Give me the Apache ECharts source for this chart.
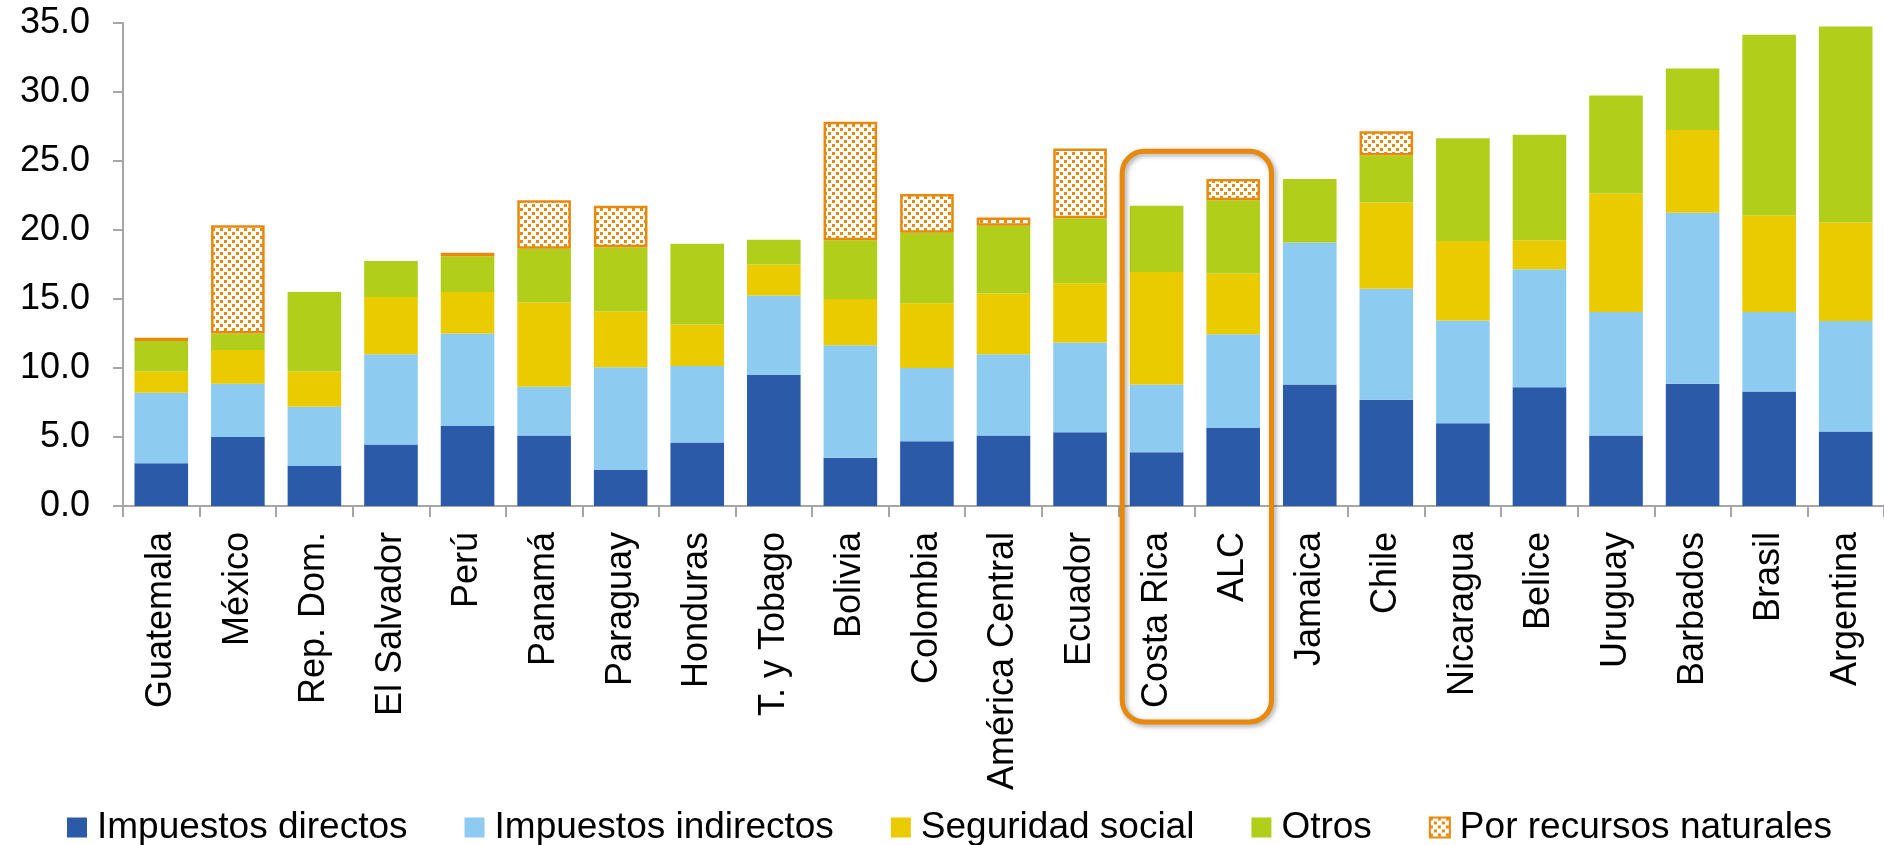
<!DOCTYPE html>
<html>
<head>
<meta charset="utf-8">
<script src="https://cdn.jsdelivr.net/npm/echarts@6/dist/echarts.min.js"></script>
<style>
  html, body { margin: 0; padding: 0; background: #fff; }
  #main { width: 1884px; height: 845px; }
</style>
</head>
<body>
<div id="main"></div>
<script>
var categories = ['Guatemala', 'México', 'Rep. Dom.', 'El Salvador', 'Perú', 'Panamá', 'Paraguay', 'Honduras',
  'T. y Tobago', 'Bolivia', 'Colombia', 'América Central', 'Ecuador', 'Costa Rica', 'ALC', 'Jamaica', 'Chile',
  'Nicaragua', 'Belice', 'Uruguay', 'Barbados', 'Brasil', 'Argentina'];

var directos   = [3.1, 5.0, 2.9, 4.45, 5.8, 5.1, 2.6, 4.6, 9.5, 3.5, 4.7, 5.1, 5.35, 3.9, 5.65, 8.8, 7.7, 6.0, 8.6, 5.1, 8.85, 8.3, 5.4];
var indirectos = [5.1, 3.85, 4.3, 6.55, 6.7, 3.55, 7.45, 5.55, 5.75, 8.15, 5.3, 5.9, 6.5, 4.9, 6.8, 10.3, 8.05, 7.45, 8.55, 8.95, 12.4, 5.75, 8.0];
var seguridad  = [1.55, 2.45, 2.55, 4.15, 3.0, 6.1, 4.05, 3.0, 2.25, 3.35, 4.7, 4.4, 4.3, 8.15, 4.4, 0, 6.25, 5.75, 2.1, 8.6, 6.0, 7.0, 7.15];
var otros      = [2.2, 1.2, 5.75, 2.6, 2.6, 3.9, 4.65, 5.85, 1.8, 4.25, 5.1, 4.9, 4.7, 4.8, 5.3, 4.6, 3.4, 7.45, 7.65, 7.1, 4.45, 13.1, 14.2];
var recursos   = [0.25, 7.85, null, null, 0.25, 3.5, 3.0, null, null, 8.6, 2.8, 0.6, 5.05, null, 1.55, null, 1.75, null, null, null, null, null, null];

var seriesNames = ['Impuestos directos', 'Impuestos indirectos', 'Seguridad social', 'Otros', 'Por recursos naturales'];
var colors = ['#2B5AA8', '#8DCCF0', '#EACB00', '#B0CE1A', '#E8890C'];

// highlighted group (rounded frame)
var framed = ['Costa Rica', 'ALC'];

var FONT = '"Liberation Sans", Arial, sans-serif';

// checker pattern for the natural resources series
var pat = document.createElement('canvas');
pat.width = 8;
pat.height = 8;
var pctx = pat.getContext('2d');
pctx.fillStyle = '#fff';
pctx.fillRect(0, 0, 8, 8);
pctx.fillStyle = '#E8890C';
pctx.fillRect(0, 0, 3, 3);
pctx.fillRect(4, 4, 3, 3);

var myChart = echarts.init(document.getElementById('main'));

function makeSeries(name, data, idx) {
  var s = {
    name: name,
    type: 'bar',
    stack: 'total',
    barCategoryGap: '30%',
    data: data,
    itemStyle: { color: colors[idx] }
  };
  if (idx === 4) {
    s.itemStyle = {
      color: { image: pat, repeat: 'repeat' },
      borderColor: colors[4],
      borderWidth: 2.5
    };
  }
  return s;
}

var option = {
  backgroundColor: '#fff',
  animation: false,
  textStyle: { fontFamily: FONT },
  grid: { left: 123, right: 0, top: 23, bottom: 339 },
  legend: {
    top: 804,
    left: 62,
    icon: 'rect',
    itemWidth: 20,
    itemHeight: 20,
    itemGap: 57,
    textStyle: { fontSize: 37, color: '#000', fontFamily: FONT, padding: [0, 0, 0, 5] },
    data: seriesNames
  },
  xAxis: {
    type: 'category',
    data: categories,
    axisLine: { lineStyle: { color: '#A6A6A6', width: 2 } },
    axisTick: { show: true, length: 11, lineStyle: { color: '#A6A6A6', width: 2 } },
    axisLabel: {
      rotate: 90,
      interval: 0,
      margin: 26,
      fontSize: 36,
      color: '#000',
      fontFamily: FONT
    }
  },
  yAxis: {
    type: 'value',
    min: 0,
    max: 35,
    interval: 5,
    splitLine: { show: false },
    axisLine: { show: true, lineStyle: { color: '#A6A6A6', width: 2 } },
    axisTick: { show: true, length: 10, lineStyle: { color: '#A6A6A6', width: 2 } },
    axisLabel: {
      margin: 33,
      fontSize: 36,
      color: '#000',
      fontFamily: FONT,
      formatter: function (v) { return v.toFixed(1); }
    }
  },
  series: [
    makeSeries(seriesNames[0], directos, 0),
    makeSeries(seriesNames[1], indirectos, 1),
    makeSeries(seriesNames[2], seguridad, 2),
    makeSeries(seriesNames[3], otros, 3),
    makeSeries(seriesNames[4], recursos, 4)
  ]
};

myChart.setOption(option);

// rounded frame around Costa Rica / ALC, placed from the axis scale
var p0 = myChart.convertToPixel({ xAxisIndex: 0, yAxisIndex: 0 }, [framed[0], 0]);
var p1 = myChart.convertToPixel({ xAxisIndex: 0, yAxisIndex: 0 }, [framed[1], 25.7]);
var catW = (1884 - 123) / categories.length;
var fx = p0[0] - catW * 0.45;
var fw = p1[0] + catW * 0.5 - fx;
var fy = p1[1];
var fh = p0[1] + 216 - fy;

myChart.setOption({
  graphic: [{
    type: 'rect',
    z: 100,
    shape: { x: fx, y: fy, width: fw, height: fh, r: 22 },
    style: {
      fill: 'none',
      stroke: '#E8890C',
      lineWidth: 5,
      shadowBlur: 5,
      shadowColor: 'rgba(0,0,0,0.35)',
      shadowOffsetX: 2,
      shadowOffsetY: 2
    }
  }]
});

window.onresize = myChart.resize;
</script>
</body>
</html>
